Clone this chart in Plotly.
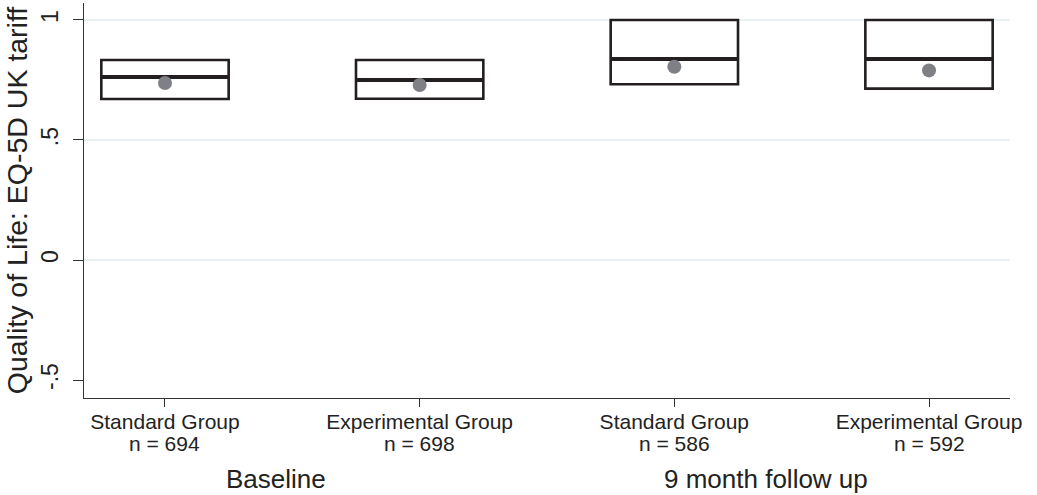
import plotly.graph_objects as go

# ---- data ----
positions = [1, 2, 3, 4]
group_names = ["Standard Group", "Experimental Group", "Standard Group", "Experimental Group"]
n_labels = ["n = 694", "n = 698", "n = 586", "n = 592"]
q1 = [0.671, 0.672, 0.732, 0.714]
median = [0.7625, 0.750, 0.8375, 0.8375]
q3 = [0.833, 0.833, 1.0, 1.0]
mean = [0.7375, 0.729, 0.805, 0.790]
group_labels = ["Baseline", "9 month follow up"]
group_label_x = [1.435, 3.36]
y_ticks = [-0.5, 0, 0.5, 1]
y_tick_text = ["-.5", "0", ".5", "1"]
grid_vals = [0, 0.5, 1]

BOX_W = 0.5
FONT = "Liberation Sans, Arial, Helvetica, sans-serif"
INK = "#231f20"
TXT = "#222222"

fig = go.Figure()

fig.add_trace(go.Box(
    x=positions, q1=q1, median=median, q3=q3,
    lowerfence=q1, upperfence=q3,
    width=BOX_W, fillcolor="white",
    line=dict(color=INK, width=2.6),
    boxpoints=False, showlegend=False, hoverinfo="skip",
))

# thicker median lines
for p, m in zip(positions, median):
    fig.add_trace(go.Scatter(
        x=[p - BOX_W / 2, p + BOX_W / 2], y=[m, m], mode="lines",
        line=dict(color=INK, width=4), showlegend=False, hoverinfo="skip",
    ))

# mean markers (on the overlay axis that carries the tick labels)
fig.add_trace(go.Scatter(
    x=positions, y=mean, mode="markers", yaxis="y2",
    marker=dict(color="#7f7f86", size=14, line=dict(width=0)),
    showlegend=False, hoverinfo="skip",
))

yr = [-0.575, 1.0708]

fig.update_layout(
    width=1037, height=495,
    margin=dict(l=84, r=27, t=3, b=97, autoexpand=False),
    paper_bgcolor="white", plot_bgcolor="white",
    font=dict(family=FONT, color=TXT, size=21),
    xaxis=dict(
        range=[0.682, 4.318], tickmode="array", tickvals=positions, ticktext=group_names,
        showgrid=False, zeroline=False, showline=True, linecolor="#333333", linewidth=1.3,
        ticks="outside", ticklen=8, tickcolor="#333333", tickwidth=1.3,
        tickfont=dict(size=21, family=FONT, color=TXT), automargin=False,
        ticklabelstandoff=-3,
    ),
    yaxis=dict(
        range=yr, tickmode="array", tickvals=grid_vals, showticklabels=False,
        showgrid=True, gridcolor="#e8f0f2", gridwidth=1.5, zeroline=False,
        showline=False, ticks="", automargin=False,
    ),
    yaxis2=dict(
        range=yr, overlaying="y", side="left", tickmode="array",
        tickvals=y_ticks, ticktext=y_tick_text, tickangle=-90,
        showgrid=False, zeroline=False, showline=True, linecolor="#333333", linewidth=1.3,
        ticks="outside", ticklen=10, tickcolor="#333333", tickwidth=1.3,
        tickfont=dict(size=23, family=FONT, color=TXT), automargin=False,
        ticklabelstandoff=6,
        title=dict(text="Quality of Life: EQ-5D UK tariff",
                   font=dict(size=28.5, family=FONT, color=TXT), standoff=0),
    ),
)

# second line of the category labels
for p, t in zip(positions, n_labels):
    fig.add_annotation(
        x=p, xref="x", y=-0.114, yref="paper", text=t, showarrow=False,
        font=dict(size=21, family=FONT, color=TXT),
        xanchor="center", yanchor="middle",
    )

# group labels under the category axis
for xpos, txt in zip(group_label_x, group_labels):
    fig.add_annotation(
        x=xpos, xref="x", y=-0.205, yref="paper", text=txt, showarrow=False,
        font=dict(size=26, family=FONT, color=TXT),
        xanchor="center", yanchor="middle",
    )

fig.write_html("out.html", config={"displayModeBar": False},
               post_script="document.body.style.margin='0';")
